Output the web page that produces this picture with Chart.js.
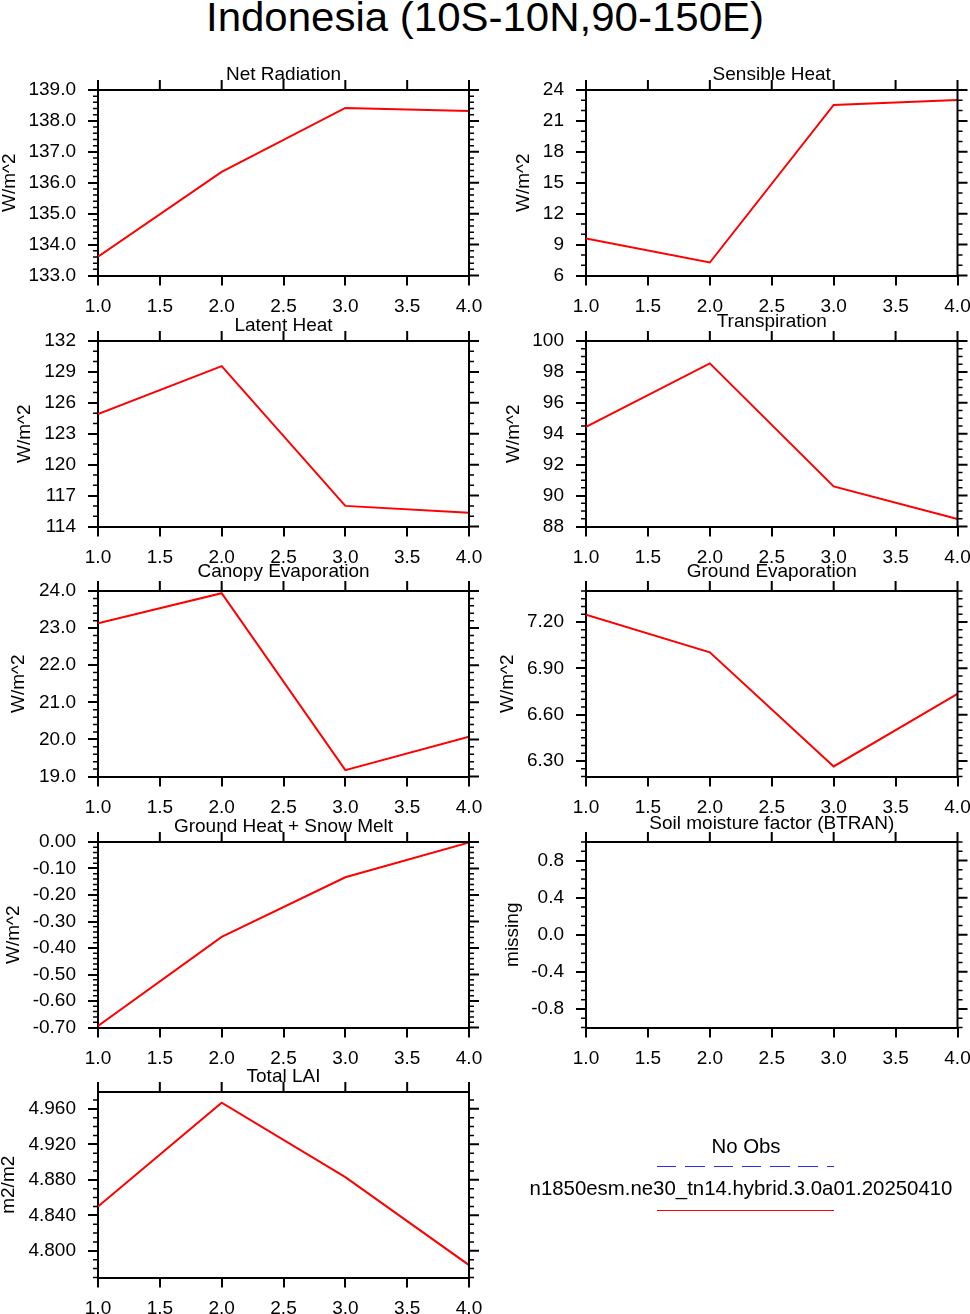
<!DOCTYPE html>
<html>
<head>
<meta charset="utf-8">
<script src="https://cdn.jsdelivr.net/npm/chart.js@4.4.1/dist/chart.umd.min.js"></script>
<style>
html, body { margin:0; padding:0; width:970px; height:1314px; overflow:hidden; background:#fff;
  font-family:"Liberation Sans", Arial, sans-serif; color:#000; }
canvas { position:absolute; }
#title { position:absolute; left:0; top:-3px; width:970px; text-align:center; font-size:40px; line-height:40px;
  transform:scaleX(1.05); }
.leg { position:absolute; left:441px; width:600px; text-align:center; font-size:20.4px; line-height:20px; white-space:nowrap; }
#dash { position:absolute; left:657px; top:1166px; width:177px; height:1.3px;
  background:repeating-linear-gradient(to right, #2a2aff 0 19.3px, transparent 19.3px 28.3px); }
#solid { position:absolute; left:657px; top:1210px; width:177px; height:1.3px; background:#ff0000; }
</style>
</head>
<body>
<div id="title">Indonesia (10S-10N,90-150E)</div>

<canvas id="c0"></canvas><canvas id="c1"></canvas>
<canvas id="c2"></canvas><canvas id="c3"></canvas>
<canvas id="c4"></canvas><canvas id="c5"></canvas>
<canvas id="c6"></canvas><canvas id="c7"></canvas>
<canvas id="c8"></canvas>

<div class="leg" style="top:1136px;left:446px">No Obs</div>
<div id="dash"></div>
<div class="leg" style="top:1178px">n1850esm.ne30_tn14.hybrid.3.0a01.20250410</div>
<div id="solid"></div>

<script>
// x positions (years / cases) and x tick labels
const xVals = [1, 2, 3, 4];
const xTicks = [1.0, 1.5, 2.0, 2.5, 3.0, 3.5, 4.0];

// series values
const netRad     = [133.61, 136.35, 138.42, 138.32];
const sensHeat   = [9.58, 7.26, 22.55, 23.03];
const latHeat    = [124.9, 129.56, 116.0, 115.33];
const transp     = [94.44, 98.55, 90.59, 88.49];
const canopyEvap = [23.13, 23.94, 19.17, 20.07];
const groundEvap = [7.247, 7.003, 6.265, 6.734];
const groundHeat = [-0.694, -0.358, -0.133, -0.002];
const btran      = [null, null, null, null];   // missing
const totalLai   = [4.850, 4.967, 4.883, 4.784];

// y axis ranges and tick labels
const netRadRange = [133, 139],      netRadTicks = [133, 134, 135, 136, 137, 138, 139];
const sensRange = [6, 24],           sensTicks = [6, 9, 12, 15, 18, 21, 24];
const latRange = [114, 132],         latTicks = [114, 117, 120, 123, 126, 129, 132];
const transpRange = [88, 100],       transpTicks = [88, 90, 92, 94, 96, 98, 100];
const canopyRange = [19, 24],        canopyTicks = [19, 20, 21, 22, 23, 24];
const gEvapRange = [6.2, 7.4],       gEvapTicks = [6.3, 6.6, 6.9, 7.2];
const gHeatRange = [-0.7, 0],        gHeatTicks = [-0.7, -0.6, -0.5, -0.4, -0.3, -0.2, -0.1, 0];
const btranRange = [-1, 1],          btranTicks = [-0.8, -0.4, 0, 0.4, 0.8];
const laiRange = [4.770, 4.979],     laiTicks = [4.80, 4.84, 4.88, 4.92, 4.96];

// panel layout (page coords)
const panels = [
  { series: netRad, range: netRadRange, ticks: netRadTicks, dec: 1, minor: 0.2,  title: 'Net Radiation', ytitle: 'W/m^2', col: 0, top: 90,  gap: 10,   ytx: 9.3 },
  { series: sensHeat, range: sensRange, ticks: sensTicks, dec: 0, minor: 1,       title: 'Sensible Heat', ytitle: 'W/m^2', col: 1, top: 90,  gap: 10,   ytx: 523.3 },
  { series: latHeat, range: latRange, ticks: latTicks, dec: 0, minor: 1,          title: 'Latent Heat', ytitle: 'W/m^2', col: 0, top: 341, gap: 10.3, ytx: 25 },
  { series: transp, range: transpRange, ticks: transpTicks, dec: 0, minor: 0.5,   title: 'Transpiration', ytitle: 'W/m^2', col: 1, top: 341, gap: 14.3, ytx: 513.3 },
  { series: canopyEvap, range: canopyRange, ticks: canopyTicks, dec: 1, minor: 0.2, title: 'Canopy Evaporation', ytitle: 'W/m^2', col: 0, top: 591, gap: 13.7, ytx: 18.3 },
  { series: groundEvap, range: gEvapRange, ticks: gEvapTicks, dec: 2, minor: 0.05, title: 'Ground Evaporation', ytitle: 'W/m^2', col: 1, top: 591, gap: 13.7, ytx: 507.7 },
  { series: groundHeat, range: gHeatRange, ticks: gHeatTicks, dec: 2, minor: 0.02, title: 'Ground Heat + Snow Melt', ytitle: 'W/m^2', col: 0, top: 842, gap: 9.8, ytx: 13.3 },
  { series: btran, range: btranRange, ticks: btranTicks, dec: 1, minor: 0.1,      title: 'Soil moisture factor (BTRAN)', ytitle: 'missing', col: 1, top: 842, gap: 13.2, ytx: 512.5 },
  { series: totalLai, range: laiRange, ticks: laiTicks, dec: 3, minor: 0.01,      title: 'Total LAI', ytitle: 'm2/m2', col: 0, top: 1092, gap: 10.3, ytx: 9.2 }
];
const cols = [
  { canvasLeft: -20, plotLeft: 98,  width: 519, padR: 30 },
  { canvasLeft: 465, plotLeft: 586, width: 523, padR: 30.5 }
];

const FONT = '"Liberation Sans", Arial, sans-serif';
Chart.defaults.font.family = FONT;
Chart.defaults.font.size = 19;
Chart.defaults.color = '#000';

// NCL-like frame: top/right border, ticks on all sides, minor ticks, titles
const frame = {
  id: 'frame',
  afterDraw(chart, args, o) {
    const { ctx, chartArea: a, scales: { x, y } } = chart;
    ctx.save();
    ctx.strokeStyle = '#000';
    ctx.lineWidth = 2;
    ctx.beginPath();
    ctx.moveTo(a.left, a.top); ctx.lineTo(a.right, a.top); ctx.lineTo(a.right, a.bottom);
    x.ticks.forEach(t => {
      const px = x.getPixelForValue(t.value);
      ctx.moveTo(px, a.top); ctx.lineTo(px, a.top - 10);
    });
    y.ticks.forEach(t => {
      const py = y.getPixelForValue(t.value);
      ctx.moveTo(a.right, py); ctx.lineTo(a.right + 10, py);
    });
    ctx.stroke();

    // minor ticks on left and right
    const majors = y.ticks.map(t => t.value);
    const base = majors[0], step = o.minor;
    const k0 = Math.ceil((y.min - base) / step - 1e-6), k1 = Math.floor((y.max - base) / step + 1e-6);
    ctx.lineWidth = 1.5;
    ctx.beginPath();
    for (let k = k0; k <= k1; k++) {
      const v = base + k * step;
      if (majors.some(m => Math.abs(m - v) < step * 0.01)) continue;
      const py = y.getPixelForValue(v);
      ctx.moveTo(a.left, py); ctx.lineTo(a.left - 5, py);
      ctx.moveTo(a.right, py); ctx.lineTo(a.right + 5, py);
    }
    ctx.stroke();

    ctx.fillStyle = '#000';
    ctx.font = '19px ' + FONT;
    ctx.textAlign = 'center';
    ctx.textBaseline = 'alphabetic';
    ctx.fillText(o.title, (a.left + a.right) / 2, a.top - o.gap);

    ctx.translate(o.ytx, (a.top + a.bottom) / 2);
    ctx.rotate(-Math.PI / 2);
    ctx.textBaseline = 'middle';
    ctx.fillText(o.ytitle, 0, 0);
    ctx.restore();
  }
};

panels.forEach((p, i) => {
  const c = cols[p.col];
  const cv = document.getElementById('c' + i);
  cv.width = c.width;
  cv.height = 266;
  cv.style.left = c.canvasLeft + 'px';
  cv.style.top = (p.top - 40) + 'px';
  const yW = c.plotLeft - c.canvasLeft;

  new Chart(cv, {
    type: 'line',
    data: {
      datasets: [{
        data: xVals.map((v, j) => ({ x: v, y: p.series[j] })),
        borderColor: '#ff0000', borderWidth: 2, pointRadius: 0, tension: 0, fill: false
      }]
    },
    options: {
      responsive: false, animation: false,
      layout: { padding: { top: 40, left: 0, right: c.padR, bottom: 0 } },
      plugins: {
        legend: { display: false }, tooltip: { enabled: false },
        frame: { title: p.title, ytitle: p.ytitle, gap: p.gap, ytx: p.ytx - c.canvasLeft, minor: p.minor }
      },
      scales: {
        x: {
          type: 'linear', min: 1, max: 4,
          afterBuildTicks: s => { s.ticks = xTicks.map(v => ({ value: v })); },
          afterFit: s => { s.height = 40.5; },
          ticks: { callback: v => v.toFixed(1), padding: 10, maxRotation: 0, autoSkip: false },
          grid: { drawOnChartArea: false, color: '#000', lineWidth: 2, tickLength: 10 },
          border: { color: '#000', width: 2 }
        },
        y: {
          type: 'linear', min: p.range[0], max: p.range[1],
          afterBuildTicks: s => { s.ticks = p.ticks.map(v => ({ value: v })); },
          afterFit: s => { s.width = yW; },
          ticks: { callback: v => v.toFixed(p.dec), padding: 12, autoSkip: false },
          grid: { drawOnChartArea: false, color: '#000', lineWidth: 2, tickLength: 10 },
          border: { color: '#000', width: 2 }
        }
      }
    },
    plugins: [frame]
  });
});
</script>
</body>
</html>
